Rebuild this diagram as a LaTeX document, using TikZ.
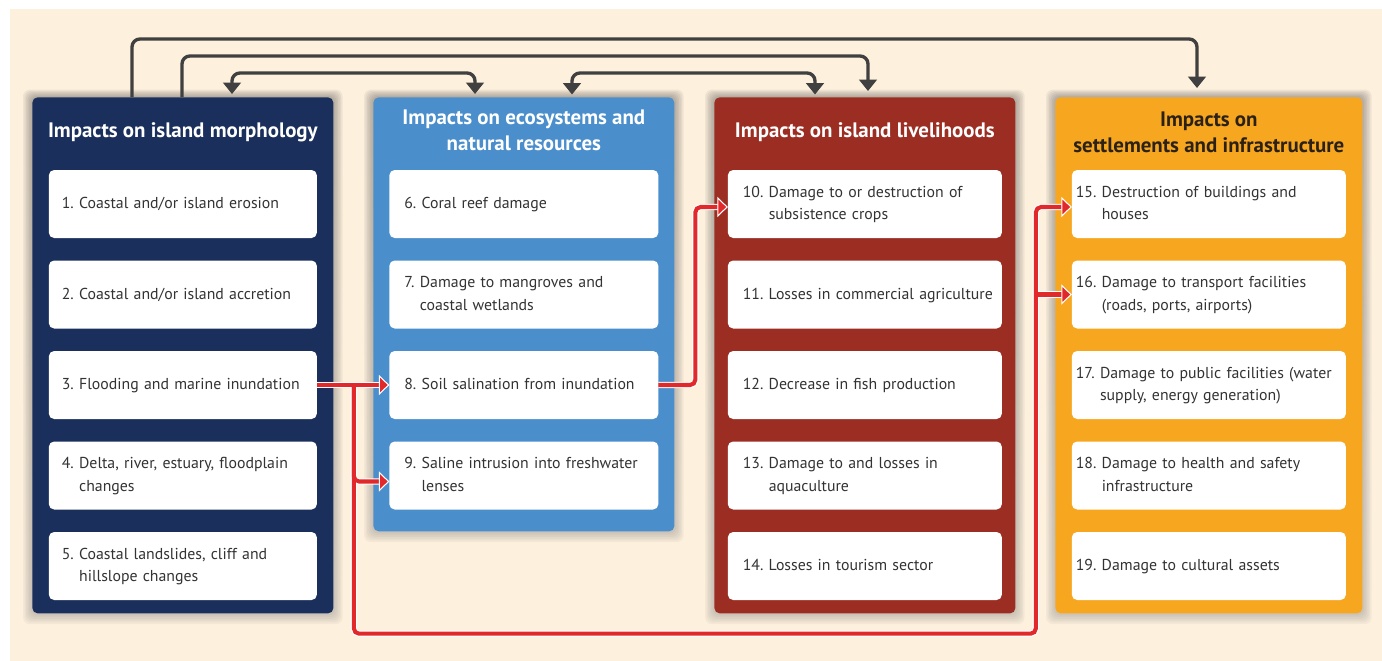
\documentclass[tikz,border=0pt]{standalone}
\usepackage{fontspec}
\setmainfont{PT Sans}
\usepackage{tikz}
\usetikzlibrary{positioning,shapes,backgrounds,arrows.meta}

\definecolor{morphology}{HTML}{1B2F5C}
\definecolor{ecosystems}{HTML}{4A8ECC}
\definecolor{livelihoods}{HTML}{9C2D22}
\definecolor{settlements}{HTML}{F7A71F}
\definecolor{backdrop}{HTML}{FDF0DD}
\definecolor{linkgray}{HTML}{404040}
\definecolor{linkred}{HTML}{E1282B}
\definecolor{textgray}{HTML}{333333}
\definecolor{headdark}{HTML}{2B2118}
\definecolor{shade}{HTML}{7A5A30}

\newcommand{\headfont}{\fontsize{11.9}{14.7}\selectfont\bfseries}
\newcommand{\bodyfont}{\fontsize{9}{13}\selectfont}
\newcommand{\numbered}[2]{#1~\begin{tabular}[t]{@{}l@{}}#2\end{tabular}}

\tikzstyle{panel}=[rectangle, rounded corners=3pt, anchor=north west, minimum width=6.02cm, minimum height=10.32cm, inner sep=0]
\tikzstyle{heading}=[text=white, font=\headfont, align=center]
\tikzstyle{impact}=[rectangle, rounded corners=3pt, fill=white, text=textgray, font=\bodyfont, minimum height=1.36cm, inner ysep=0, outer sep=0, align=left, anchor=north]
\tikzset{
    col1/.style={text width=4.84cm, inner xsep=0.26cm},
    col2/.style={text width=4.78cm, inner xsep=0.30cm},
    col3/.style={text width=4.88cm, inner xsep=0.30cm},
    col4/.style={text width=5.32cm, inner xsep=0.08cm},
    link/.style={draw=linkgray, line width=1.9pt, rounded corners=4.5pt},
    rededge/.style={draw=white, line width=3.6pt, rounded corners=3pt, shorten >=5pt},
    redlink/.style={draw=linkred, line width=2.3pt, rounded corners=3pt, -{Triangle[width=11.5pt,length=6pt,fill=linkred,color=white,line width=0.6pt]}},
}
\tikzset{>={Triangle[width=10pt,length=6.5pt]}}

\begin{document}
\begin{tikzpicture}[]

    \useasboundingbox (0,0) rectangle (27.64,-13.22);

    \node (p1) [panel, fill=morphology] at (0.64,-1.94) {};
    \node (p2) [panel, fill=ecosystems, minimum height=8.68cm] at (7.46,-1.94) {};
    \node (p3) [panel, fill=livelihoods] at (14.28,-1.94) {};
    \node (p4) [panel, fill=settlements, minimum width=6.14cm] at (21.10,-1.94) {};

    % soft shadows behind the panels
    \begin{scope}[on background layer]
        \fill [backdrop] (0.2,-0.18) rectangle (27.64,-13.22);
        \foreach \p in {p1,p2,p3,p4}{
            \foreach \r in {1,...,6}{
                \fill [shade, opacity=0.035, rounded corners=4pt]
                    ([shift={(-\r*0.03,\r*0.025)}]\p.north west) rectangle ([shift={(\r*0.03,-\r*0.035)}]\p.south east);
            };
        };
    \end{scope}

    \node (t1) [heading] at ([yshift=-0.70cm]p1.north) {Impacts on island morphology};
    \node (t2) [heading] at ([yshift=-0.66cm]p2.north) {Impacts on ecosystems and\\natural resources};
    \node (t3) [heading] at ([yshift=-0.70cm]p3.north) {Impacts on island livelihoods};
    \node (t4) [heading, text=headdark] at ([yshift=-0.70cm]p4.north) {Impacts on\\settlements and infrastructure};

    % morphology
    \node (b1) [impact, col1, below=1.46cm of p1.north] {\numbered{1.}{Coastal and/or island erosion}};
    \foreach \idx/\txt [remember=\idx as \lastidx (initially 1)] in {2/{Coastal and/or island accretion}, 3/{Flooding and marine inundation}, 4/{Delta, river, estuary, floodplain\\changes}, 5/{Coastal landslides, cliff and\\hillslope changes}}{
        \node (b\idx) [impact, col1, below=0.45cm of b\lastidx] {\numbered{\idx.}{\txt}};
    };

    % ecosystems
    \node (b6) [impact, col2, below=1.46cm of p2.north] {\numbered{6.}{Coral reef damage}};
    \foreach \idx/\txt [remember=\idx as \lastidx (initially 6)] in {7/{Damage to mangroves and\\coastal wetlands}, 8/{Soil salination from inundation}, 9/{Saline intrusion into freshwater\\lenses}}{
        \node (b\idx) [impact, col2, below=0.45cm of b\lastidx] {\numbered{\idx.}{\txt}};
    };

    % livelihoods
    \node (b10) [impact, col3, below=1.46cm of p3.north] {\numbered{10.}{Damage to or destruction of\\subsistence crops}};
    \foreach \idx/\txt [remember=\idx as \lastidx (initially 10)] in {11/{Losses in commercial agriculture}, 12/{Decrease in fish production}, 13/{Damage to and losses in\\aquaculture}, 14/{Losses in tourism sector}}{
        \node (b\idx) [impact, col3, below=0.45cm of b\lastidx] {\numbered{\idx.}{\txt}};
    };

    % settlements
    \node (b15) [impact, col4, below=1.46cm of p4.north] {\numbered{15.}{Destruction of buildings and\\houses}};
    \foreach \idx/\txt [remember=\idx as \lastidx (initially 15)] in {16/{Damage to transport facilities\\(roads, ports, airports)}, 17/{Damage to public facilities (water\\supply, energy generation)}, 18/{Damage to health and safety\\infrastructure}, 19/{Damage to cultural assets}}{
        \node (b\idx) [impact, col4, below=0.45cm of b\lastidx] {\numbered{\idx.}{\txt}};
    };

    % links between groups
    \draw [link, ->, shorten >=0.18cm] ([xshift=2.0cm]p1.north west) -- ++(0,1.16) -| ([xshift=2.84cm]p4.north west);
    \draw [link, ->, shorten >=0.12cm] ([xshift=3.0cm]p1.north west) -- ++(0,0.82) -| ([xshift=3.08cm]p3.north west);
    \draw [link, <->, shorten <=0.06cm, shorten >=0.06cm] ([xshift=4.0cm]p1.north west) -- ++(0,0.48) -| ([xshift=2.04cm]p2.north west);
    \draw [link, <->, shorten <=0.05cm, shorten >=0.05cm] ([xshift=3.98cm]p2.north west) -- ++(0,0.48) -| ([xshift=2.02cm]p3.north west);

    % inundation cascade
    \coordinate [right=0.74cm of b3.east] (j1);
    \coordinate [right=0.74cm of b8.east] (j2);
    \coordinate [left=0.72cm of b15.west] (j3);
    \coordinate [below=0.4cm of p1.south] (lo);

    \foreach \s in {rededge, redlink}{
        \draw [\s] (b3.east) -- (b8.west);
        \draw [\s] (j1) |- ([yshift=-0.12cm]b9.west);
        \draw [\s] (j1) |- (lo -| j3) |- ([yshift=-0.06cm]b15.west);
        \draw [\s] (j3 |- b16.west) -- (b16.west);
        \draw [\s] (b8.east) -- (j2) |- ([yshift=-0.06cm]b10.west);
    };

\end{tikzpicture}
\end{document}
